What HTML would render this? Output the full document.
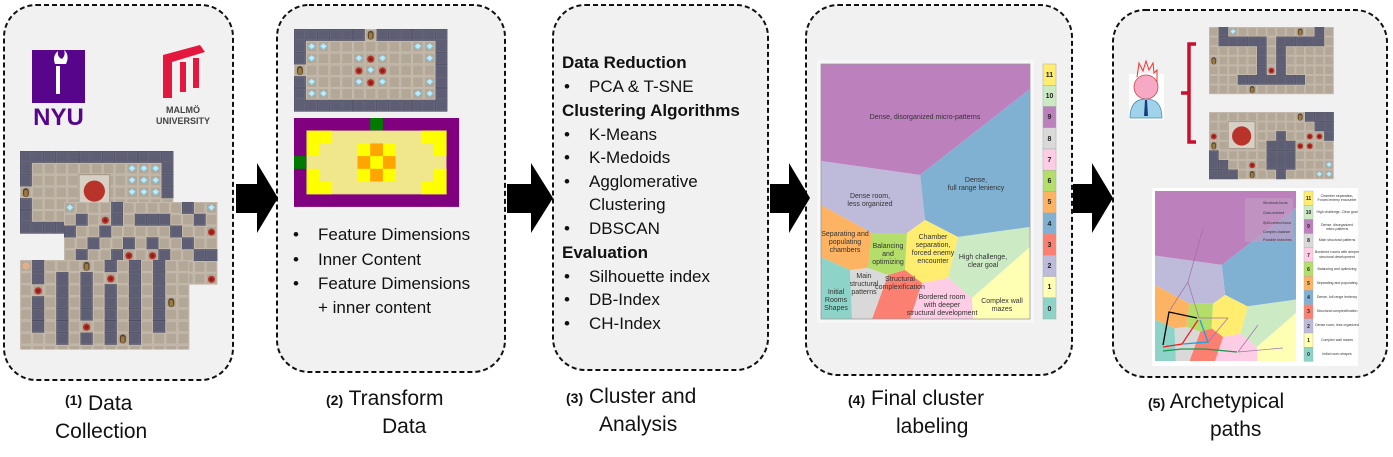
<!DOCTYPE html>
<html><head><meta charset="utf-8"><style>
html,body{margin:0;padding:0;background:#fff;}
svg{display:block;font-family:"Liberation Sans",Arial,sans-serif;}
</style></head><body>
<svg width="1393" height="457" viewBox="0 0 1393 457" xmlns="http://www.w3.org/2000/svg">
<defs>
<pattern id="fl" width="1" height="1" patternUnits="userSpaceOnUse">
<rect width="1" height="1" fill="#bcb1a3"/><rect x="0.06" y="0.06" width="0.88" height="0.88" fill="#b3a797" stroke="#c9bfb2" stroke-width="0.06"/>
</pattern>
<g id="w"><rect width="1" height="1" fill="#4e4e62"/><rect x="0.08" y="0.08" width="0.84" height="0.84" fill="#5d5d73" stroke="#6e6e84" stroke-width="0.05"/></g>
<g id="d"><polygon points="0.5,0.2 0.8,0.45 0.5,0.75 0.2,0.45" fill="#bfeaf7" stroke="#7fc6e0" stroke-width="0.06"/></g>
<g id="e"><circle cx="0.5" cy="0.55" r="0.3" fill="#b8332a"/><circle cx="0.5" cy="0.55" r="0.15" fill="#8a1f18"/></g>
<g id="o"><rect x="0.25" y="0.15" width="0.5" height="0.75" rx="0.25" fill="#5a4630"/><rect x="0.35" y="0.3" width="0.3" height="0.55" rx="0.15" fill="#9b7b3c"/></g>
<g id="vor">
<polygon points="821,64 1030,64 1030,89 920,175 821,161" fill="#bc80bd"/>
<polygon points="920,175 1030,89 1030,227 958,237 925,220" fill="#80b1d3"/>
<polygon points="821,161 920,175 925,220 907,233 872,233 821,205" fill="#bebada"/>
<polygon points="821,205 872,233 868,268 850,270 821,257" fill="#fdb462"/>
<polygon points="872,233 907,233 905,270 888,275 868,268" fill="#b3de69"/>
<polygon points="907,233 925,220 958,237 948,278 922,283 905,270" fill="#ffed6f"/>
<polygon points="958,237 1030,227 1030,247 972,298 948,278" fill="#ccebc5"/>
<polygon points="1030,247 1030,319 973,319 972,298" fill="#ffffb3"/>
<polygon points="922,283 948,278 972,298 973,319 910,319" fill="#fccde5"/>
<polygon points="888,275 905,270 922,283 910,319 872,319" fill="#fb8072"/>
<polygon points="850,270 868,268 888,275 872,319 852,319" fill="#d9d9d9"/>
<polygon points="821,257 850,270 852,319 821,319" fill="#8dd3c7"/>
</g>
</defs>

<!-- panels -->
<g fill="#f1f1f1" stroke="#111" stroke-width="2" stroke-dasharray="5,3">
<rect x="4" y="5" width="229" height="375" rx="32"/>
<rect x="277" y="5" width="228" height="367" rx="32"/>
<rect x="553" y="5" width="215" height="365" rx="32"/>
<rect x="806" y="5" width="266" height="370" rx="32"/>
<rect x="1113" y="10" width="274" height="367" rx="32"/>
</g>

<!-- arrows -->
<g fill="#000">
<polygon points="236,184 257,184 257,163 278,198 257,233 257,213 236,213"/>
<polygon points="507,184 531,184 531,163 553,198 531,233 531,213 507,213"/>
<polygon points="770,184 789,184 789,163 810,198 789,233 789,213 770,213"/>
<polygon points="1073,184 1092,184 1092,163 1113,198 1092,233 1092,213 1073,213"/>
</g>

<!-- panel 1 logos -->
<rect x="32" y="50" width="53" height="53" fill="#57068c"/>
<path d="M55,64 q-3,-8 3,-13 q-1,6 4,8 q4,-4 2,-9 q6,5 2,14z" fill="#fff"/>
<rect x="56" y="66" width="4" height="28" fill="#fff"/>
<text x="58.5" y="125" font-size="24" font-weight="bold" fill="#57068c" text-anchor="middle">NYU</text>
<g fill="#e4173e">
<polygon points="163,55 200,45 205,52 172,62 172,98 163,98"/>
<rect x="180" y="62" width="6" height="30"/>
<rect x="193" y="58" width="6" height="30"/>
</g>
<text x="183" y="113" font-size="9" font-weight="bold" fill="#444" text-anchor="middle">MALMÖ</text>
<text x="183" y="124" font-size="9" font-weight="bold" fill="#444" text-anchor="middle">UNIVERSITY</text>

<!-- level A -->
<g transform="translate(20,151) scale(11.8)">
<rect width="13" height="7" fill="url(#fl)"/>
<use href="#w" x="0" y="0"/><use href="#w" x="1" y="0"/><use href="#w" x="2" y="0"/><use href="#w" x="3" y="0"/><use href="#w" x="4" y="0"/><use href="#w" x="5" y="0"/><use href="#w" x="6" y="0"/><use href="#w" x="7" y="0"/><use href="#w" x="8" y="0"/><use href="#w" x="9" y="0"/><use href="#w" x="10" y="0"/><use href="#w" x="11" y="0"/><use href="#w" x="12" y="0"/>
<use href="#w" x="0" y="1"/><use href="#w" x="0" y="2"/><use href="#w" x="0" y="4"/><use href="#w" x="0" y="5"/><use href="#w" x="0" y="6"/><use href="#w" x="1" y="6"/><use href="#w" x="2" y="6"/><use href="#w" x="3" y="6"/>
<use href="#w" x="12" y="1"/><use href="#w" x="12" y="2"/><use href="#w" x="12" y="3"/>
<use href="#o" x="0" y="3"/>
<use href="#d" x="9" y="1"/><use href="#d" x="10" y="1"/><use href="#d" x="11" y="1"/><use href="#d" x="9" y="2"/><use href="#d" x="10" y="2"/><use href="#d" x="11" y="2"/><use href="#d" x="9" y="3"/><use href="#d" x="10" y="3"/><use href="#d" x="11" y="3"/>
<rect x="5" y="2" width="2.6" height="2.6" fill="#d8d0c4" stroke="#a89c8c" stroke-width="0.1"/>
<circle cx="6.3" cy="3.4" r="0.9" fill="#b8332a"/>
</g>
<!-- level B -->
<g transform="translate(64,202) scale(11.8)">
<rect width="13" height="7" fill="url(#fl)"/>
<use href="#w" x="4" y="0"/><use href="#w" x="10" y="0"/><use href="#w" x="1" y="1"/><use href="#w" x="4" y="1"/><use href="#w" x="6" y="1"/><use href="#w" x="7" y="1"/><use href="#w" x="8" y="1"/><use href="#w" x="11" y="1"/>
<use href="#w" x="0" y="2"/><use href="#w" x="3" y="2"/><use href="#w" x="9" y="2"/><use href="#w" x="2" y="3"/><use href="#w" x="5" y="3"/><use href="#w" x="7" y="3"/><use href="#w" x="10" y="3"/>
<use href="#w" x="1" y="4"/><use href="#w" x="4" y="4"/><use href="#w" x="8" y="4"/><use href="#w" x="11" y="4"/><use href="#w" x="12" y="4"/>
<use href="#d" x="0" y="0"/><use href="#d" x="12" y="0"/>
<use href="#e" x="3" y="1"/><use href="#e" x="12" y="2"/><use href="#e" x="5" y="4"/><use href="#e" x="7" y="4"/><use href="#e" x="12" y="6"/>
</g>
<!-- level C -->
<g transform="translate(20,260) scale(12.1)">
<rect width="14" height="7.4" fill="url(#fl)"/>
<use href="#w" x="1" y="0"/><use href="#w" x="1" y="1"/><use href="#w" x="1" y="3"/><use href="#w" x="1" y="4"/><use href="#w" x="1" y="5"/>
<use href="#w" x="3" y="1"/><use href="#w" x="3" y="2"/><use href="#w" x="3" y="3"/><use href="#w" x="3" y="4"/><use href="#w" x="3" y="5"/><use href="#w" x="3" y="6"/>
<use href="#w" x="5" y="1"/><use href="#w" x="5" y="2"/><use href="#w" x="5" y="3"/><use href="#w" x="5" y="4"/><use href="#w" x="5" y="6"/>
<use href="#w" x="7" y="0"/><use href="#w" x="7" y="2"/><use href="#w" x="7" y="3"/><use href="#w" x="7" y="4"/><use href="#w" x="7" y="5"/><use href="#w" x="7" y="6"/>
<use href="#w" x="9" y="0"/><use href="#w" x="9" y="1"/><use href="#w" x="9" y="2"/><use href="#w" x="9" y="3"/><use href="#w" x="9" y="4"/><use href="#w" x="9" y="5"/><use href="#w" x="9" y="6"/>
<use href="#w" x="11" y="0"/><use href="#w" x="11" y="1"/><use href="#w" x="11" y="2"/><use href="#w" x="11" y="3"/><use href="#w" x="11" y="4"/><use href="#w" x="11" y="5"/>
<use href="#o" x="5" y="0"/><use href="#o" x="12" y="3"/><use href="#o" x="8" y="6"/>
<use href="#e" x="7" y="1"/><use href="#e" x="1" y="2"/><use href="#e" x="5" y="5"/>
<circle cx="0.5" cy="0.5" r="0.3" fill="#e0b08a"/>
</g>

<!-- panel 2 level -->
<g transform="translate(294,29) scale(11.8)">
<rect width="13" height="7" fill="url(#fl)"/>
<use href="#w" x="0" y="0"/><use href="#w" x="1" y="0"/><use href="#w" x="2" y="0"/><use href="#w" x="3" y="0"/><use href="#w" x="4" y="0"/><use href="#w" x="5" y="0"/><use href="#w" x="7" y="0"/><use href="#w" x="8" y="0"/><use href="#w" x="9" y="0"/><use href="#w" x="10" y="0"/><use href="#w" x="11" y="0"/><use href="#w" x="12" y="0"/>
<use href="#w" x="0" y="6"/><use href="#w" x="1" y="6"/><use href="#w" x="2" y="6"/><use href="#w" x="3" y="6"/><use href="#w" x="4" y="6"/><use href="#w" x="5" y="6"/><use href="#w" x="6" y="6"/><use href="#w" x="7" y="6"/><use href="#w" x="8" y="6"/><use href="#w" x="9" y="6"/><use href="#w" x="10" y="6"/><use href="#w" x="11" y="6"/><use href="#w" x="12" y="6"/>
<use href="#w" x="0" y="1"/><use href="#w" x="0" y="2"/><use href="#w" x="0" y="4"/><use href="#w" x="0" y="5"/>
<use href="#w" x="12" y="1"/><use href="#w" x="12" y="2"/><use href="#w" x="12" y="3"/><use href="#w" x="12" y="4"/><use href="#w" x="12" y="5"/>
<use href="#o" x="6" y="0"/><use href="#o" x="0" y="3"/>
<use href="#d" x="1" y="1"/><use href="#d" x="2" y="1"/><use href="#d" x="10" y="1"/><use href="#d" x="11" y="1"/><use href="#d" x="1" y="2"/><use href="#d" x="11" y="2"/><use href="#d" x="5" y="2"/><use href="#d" x="7" y="2"/><use href="#d" x="6" y="3"/><use href="#d" x="5" y="4"/><use href="#d" x="7" y="4"/><use href="#d" x="1" y="4"/><use href="#d" x="11" y="4"/><use href="#d" x="1" y="5"/><use href="#d" x="2" y="5"/><use href="#d" x="10" y="5"/><use href="#d" x="11" y="5"/>
<use href="#e" x="6" y="2"/><use href="#e" x="5" y="3"/><use href="#e" x="7" y="3"/><use href="#e" x="6" y="4"/>
</g>
<!-- heatmap -->
<g transform="translate(294,118) scale(12.7)">
<rect width="13" height="7" fill="#800080"/>
<rect x="6" y="0" width="1" height="1" fill="#007a00"/><rect x="0" y="3" width="1" height="1" fill="#007a00"/>
<rect x="1" y="1" width="11" height="5" fill="#f0e68c" stroke="#c98" stroke-width="0.05"/>
<g fill="#ffff00">
<rect x="1" y="1" width="2" height="1"/><rect x="10" y="1" width="2" height="1"/><rect x="1" y="2" width="1" height="1"/><rect x="11" y="2" width="1" height="1"/>
<rect x="1" y="4" width="1" height="1"/><rect x="11" y="4" width="1" height="1"/><rect x="1" y="5" width="2" height="1"/><rect x="10" y="5" width="2" height="1"/>
<rect x="5" y="2" width="3" height="3"/>
</g>
<g fill="#ffa500"><rect x="6" y="2" width="1" height="1"/><rect x="5" y="3" width="1" height="1"/><rect x="7" y="3" width="1" height="1"/><rect x="6" y="4" width="1" height="1"/></g>
</g>

<!-- panel 2 text -->
<g font-size="17" fill="#111">
<text x="293" y="240">•</text><text x="318" y="240">Feature Dimensions</text>
<text x="293" y="265">•</text><text x="318" y="265">Inner Content</text>
<text x="293" y="289">•</text><text x="318" y="289">Feature Dimensions</text>
<text x="318" y="313">+ inner content</text>
</g>

<!-- panel 3 text -->
<g font-size="17" fill="#111">
<text x="562" y="68" font-weight="bold">Data Reduction</text>
<text x="564" y="92">•</text><text x="589" y="92">PCA &amp; T-SNE</text>
<text x="562" y="116" font-weight="bold">Clustering Algorithms</text>
<text x="564" y="140">•</text><text x="589" y="140">K-Means</text>
<text x="564" y="163">•</text><text x="589" y="163">K-Medoids</text>
<text x="564" y="187">•</text><text x="589" y="187">Agglomerative</text>
<text x="589" y="210">Clustering</text>
<text x="564" y="234">•</text><text x="589" y="234">DBSCAN</text>
<text x="562" y="258" font-weight="bold">Evaluation</text>
<text x="564" y="282">•</text><text x="589" y="282">Silhouette index</text>
<text x="564" y="305">•</text><text x="589" y="305">DB-Index</text>
<text x="564" y="329">•</text><text x="589" y="329">CH-Index</text>
</g>

<!-- panel 4 -->
<rect x="817" y="60" width="217" height="263" fill="#f7f7f7"/>
<use href="#vor"/>
<rect x="821" y="64" width="209" height="255" fill="none" stroke="#999" stroke-width="0.8"/>
<g font-size="7" fill="#333" text-anchor="middle">
<text x="925" y="119">Dense, disorganized micro-patterns</text>
<text x="976" y="182">Dense,</text><text x="976" y="190">full range leniency</text>
<text x="870" y="198">Dense room,</text><text x="870" y="206">less organized</text>
<text x="845" y="236">Separating and</text><text x="845" y="244">populating</text><text x="845" y="252">chambers</text>
<text x="888" y="248">Balancing</text><text x="888" y="256">and</text><text x="888" y="264">optimizing</text>
<text x="933" y="239">Chamber</text><text x="933" y="247">separation,</text><text x="933" y="255">forced enemy</text><text x="933" y="263">encounter</text>
<text x="983" y="259">High challenge,</text><text x="983" y="267">clear goal</text>
<text x="836" y="294">Initial</text><text x="836" y="302">Rooms</text><text x="836" y="310">Shapes</text>
<text x="864" y="278">Main</text><text x="864" y="286">structural</text><text x="864" y="294">patterns</text>
<text x="900" y="281">Structural</text><text x="900" y="289">complexification</text>
<text x="942" y="299">Bordered room</text><text x="942" y="307">with deeper</text><text x="942" y="315">structural development</text>
<text x="1002" y="303">Complex wall</text><text x="1002" y="311">mazes</text>
</g>
<g stroke="#aaa" stroke-width="0.5">
<rect x="1043" y="64" width="13" height="21.25" fill="#ffed6f"/>
<rect x="1043" y="85.25" width="13" height="21.25" fill="#ccebc5"/>
<rect x="1043" y="106.5" width="13" height="21.25" fill="#bc80bd"/>
<rect x="1043" y="127.75" width="13" height="21.25" fill="#d9d9d9"/>
<rect x="1043" y="149" width="13" height="21.25" fill="#fccde5"/>
<rect x="1043" y="170.25" width="13" height="21.25" fill="#b3de69"/>
<rect x="1043" y="191.5" width="13" height="21.25" fill="#fdb462"/>
<rect x="1043" y="212.75" width="13" height="21.25" fill="#80b1d3"/>
<rect x="1043" y="234" width="13" height="21.25" fill="#fb8072"/>
<rect x="1043" y="255.25" width="13" height="21.25" fill="#bebada"/>
<rect x="1043" y="276.5" width="13" height="21.25" fill="#ffffb3"/>
<rect x="1043" y="297.75" width="13" height="21.25" fill="#8dd3c7"/>
</g>
<g font-size="7" font-weight="bold" fill="#222" text-anchor="middle">
<text x="1049.5" y="77">11</text><text x="1049.5" y="98">10</text><text x="1049.5" y="119">9</text><text x="1049.5" y="141">8</text><text x="1049.5" y="162">7</text><text x="1049.5" y="183">6</text><text x="1049.5" y="204">5</text><text x="1049.5" y="226">4</text><text x="1049.5" y="247">3</text><text x="1049.5" y="268">2</text><text x="1049.5" y="289">1</text><text x="1049.5" y="311">0</text>
</g>

<!-- panel 5 person -->
<rect x="1129" y="74" width="35" height="46" fill="#fff"/>
<path d="M1137,77 l2,-14 l4,8 l3,-10 l3,9 l4,-7 l1,10 l3,-3 l0,12" fill="none" stroke="#e33" stroke-width="1"/>
<circle cx="1146" cy="87" r="12" fill="#f7a8c4" stroke="#c44" stroke-width="0.8"/>
<path d="M1130,118 q0,-19 16,-19 q16,0 16,19z" fill="#9fd3ea" stroke="#4a8fb0" stroke-width="0.8"/>
<polygon points="1145,100 1147,100 1148,116 1144,116" fill="#1a3d80"/>
<!-- brace -->
<path d="M1196,44 h-7 v49 h-8 h8 v49 h7" fill="none" stroke="#c8102e" stroke-width="3.5"/>
<!-- levels -->
<g transform="translate(1209,27) scale(9.6)">
<rect width="13" height="7" fill="url(#fl)"/>
<use href="#w" x="1" y="0"/><use href="#w" x="11" y="0"/>
<use href="#w" x="1" y="1"/><use href="#w" x="2" y="1"/><use href="#w" x="3" y="1"/><use href="#w" x="4" y="1"/><use href="#w" x="5" y="1"/><use href="#w" x="7" y="1"/><use href="#w" x="8" y="1"/><use href="#w" x="9" y="1"/><use href="#w" x="10" y="1"/><use href="#w" x="11" y="1"/>
<use href="#w" x="5" y="2"/><use href="#w" x="7" y="2"/><use href="#w" x="5" y="3"/><use href="#w" x="7" y="3"/><use href="#w" x="5" y="4"/><use href="#w" x="7" y="4"/>
<use href="#w" x="3" y="5"/><use href="#w" x="4" y="5"/><use href="#w" x="5" y="5"/><use href="#w" x="6" y="5"/><use href="#w" x="7" y="5"/><use href="#w" x="8" y="5"/><use href="#w" x="9" y="5"/>
<use href="#d" x="2" y="0"/><use href="#o" x="9" y="0"/><use href="#o" x="0" y="3"/><use href="#o" x="4" y="6"/><use href="#e" x="6" y="4"/>
</g>
<g transform="translate(1209,112) scale(9.6)">
<rect width="13" height="7" fill="url(#fl)"/>
<use href="#w" x="10" y="0"/><use href="#w" x="11" y="0"/><use href="#w" x="12" y="0"/><use href="#w" x="11" y="1"/><use href="#w" x="12" y="1"/><use href="#w" x="12" y="2"/>
<use href="#w" x="7" y="2"/><use href="#w" x="6" y="3"/><use href="#w" x="7" y="3"/><use href="#w" x="8" y="3"/><use href="#w" x="6" y="4"/><use href="#w" x="7" y="4"/><use href="#w" x="8" y="4"/><use href="#w" x="6" y="5"/><use href="#w" x="7" y="5"/><use href="#w" x="8" y="5"/><use href="#w" x="7" y="6"/>
<use href="#w" x="0" y="4"/><use href="#w" x="0" y="5"/><use href="#w" x="1" y="5"/><use href="#w" x="0" y="6"/><use href="#w" x="1" y="6"/><use href="#w" x="2" y="6"/>
<use href="#o" x="9" y="0"/><use href="#o" x="0" y="3"/><use href="#o" x="4" y="6"/>
<use href="#e" x="0" y="2"/><use href="#e" x="10" y="2"/><use href="#e" x="11" y="2"/><use href="#e" x="9" y="3"/><use href="#e" x="10" y="3"/><use href="#e" x="4" y="5"/>
<use href="#d" x="12" y="5"/><use href="#d" x="11" y="6"/><use href="#d" x="12" y="6"/>
<rect x="2" y="1" width="2.8" height="2.8" fill="#d8d0c4" stroke="#a89c8c" stroke-width="0.1"/>
<circle cx="3.4" cy="2.5" r="1" fill="#b8332a"/>
</g>
<!-- mini chart -->
<rect x="1152" y="188" width="206" height="178" fill="#fff"/>
<g transform="translate(1155,191) scale(0.6746,0.6667) translate(-821,-64)"><use href="#vor"/></g>
<g fill="none" stroke="#a070a8" stroke-width="0.7">
<polyline points="1170,310 1188,282 1203,228"/>
<polyline points="1188,282 1199,318 1228,318"/>
<polyline points="1208,342 1228,318"/>
<polyline points="1238,352 1258,325"/>
<polyline points="1238,352 1283,348"/>
</g>
<g fill="none" stroke-width="1.3">
<polyline points="1163,351 1182,349 1205,349 1237,352" stroke="#1a9850"/>
<polyline points="1163,345 1169,312 1197,318" stroke="#000"/>
<polyline points="1163,347 1182,344 1198,320" stroke="#e22"/>
<polyline points="1183,344 1208,342 1200,320" stroke="#1aa0e0"/>
</g>
<rect x="1245" y="198" width="48" height="44" fill="#c09ac4" opacity="0.7"/>
<g font-size="3.5" fill="#333">
<text x="1263" y="204">Structural-focus</text><text x="1263" y="214">Goal-oriented</text><text x="1263" y="224">Split-control-focus</text><text x="1263" y="233">Complex-balance</text><text x="1263" y="241">Possible branches</text>
</g>
<g stroke-width="0.4" stroke="#aaa">
<rect x="1304" y="191" width="9" height="14.2" fill="#ffed6f"/><rect x="1304" y="205.2" width="9" height="14.2" fill="#ccebc5"/><rect x="1304" y="219.4" width="9" height="14.2" fill="#bc80bd"/><rect x="1304" y="233.6" width="9" height="14.2" fill="#d9d9d9"/><rect x="1304" y="247.8" width="9" height="14.2" fill="#fccde5"/><rect x="1304" y="262" width="9" height="14.2" fill="#b3de69"/><rect x="1304" y="276.2" width="9" height="14.2" fill="#fdb462"/><rect x="1304" y="290.4" width="9" height="14.2" fill="#80b1d3"/><rect x="1304" y="304.6" width="9" height="14.2" fill="#fb8072"/><rect x="1304" y="318.8" width="9" height="14.2" fill="#bebada"/><rect x="1304" y="333" width="9" height="14.2" fill="#ffffb3"/><rect x="1304" y="347.2" width="9" height="14.2" fill="#8dd3c7"/>
</g>
<g font-size="3.5" fill="#333" text-anchor="middle">
<text x="1337" y="197">Chamber separation,</text><text x="1337" y="201">Forced enemy encounter</text>
<text x="1337" y="213">High challenge, Clear goal</text>
<text x="1337" y="226">Dense, disorganized</text><text x="1337" y="230">micro-patterns</text>
<text x="1337" y="241">Main structural patterns</text>
<text x="1337" y="253">Bordered rooms with deeper</text><text x="1337" y="258">structural development</text>
<text x="1337" y="270">Balancing and optimizing</text>
<text x="1337" y="284">Separating and populating</text>
<text x="1337" y="298">Dense, full range leniency</text>
<text x="1337" y="312">Structural complexification</text>
<text x="1337" y="326">Dense room, less organized</text>
<text x="1337" y="341">Complex wall mazes</text>
<text x="1337" y="355">Initial room shapes</text>
</g>
<g font-size="5" font-weight="bold" fill="#222" text-anchor="middle">
<text x="1308.5" y="200">11</text><text x="1308.5" y="214">10</text><text x="1308.5" y="228">9</text><text x="1308.5" y="242">8</text><text x="1308.5" y="257">7</text><text x="1308.5" y="271">6</text><text x="1308.5" y="285">5</text><text x="1308.5" y="299">4</text><text x="1308.5" y="313">3</text><text x="1308.5" y="328">2</text><text x="1308.5" y="342">1</text><text x="1308.5" y="356">0</text>
</g>

<!-- captions -->
<g font-size="21" fill="#111">
<text x="65" y="405" font-size="14" font-weight="bold">(1)</text>
<text x="88" y="410">Data</text>
<text x="55" y="438">Collection</text>
<text x="326" y="405"><tspan font-size="14" font-weight="bold">(2)</tspan> Transform</text>
<text x="382" y="433">Data</text>
<text x="566" y="403"><tspan font-size="14" font-weight="bold">(3)</tspan> Cluster and</text>
<text x="599" y="431">Analysis</text>
<text x="848" y="405"><tspan font-size="14" font-weight="bold">(4)</tspan> Final cluster</text>
<text x="896" y="433">labeling</text>
<text x="1148" y="408"><tspan font-size="14" font-weight="bold">(5)</tspan> Archetypical</text>
<text x="1210" y="436">paths</text>
</g>
</svg>
</body></html>
